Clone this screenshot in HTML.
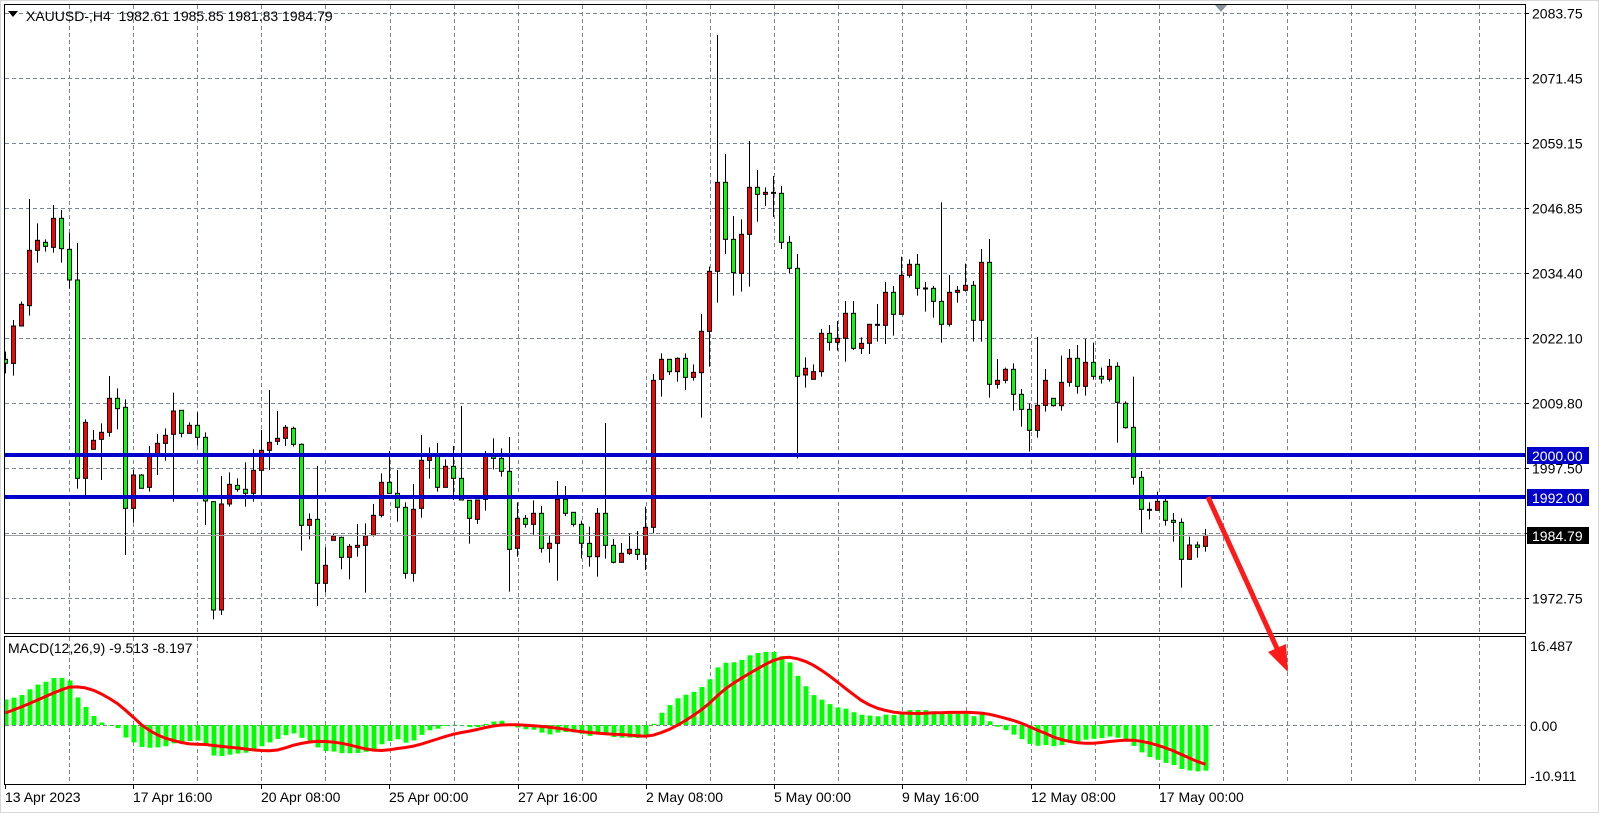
<!DOCTYPE html>
<html><head><meta charset="utf-8"><style>
html,body{margin:0;padding:0;background:#fff;}
svg{display:block;font-family:"Liberation Sans",Arial,sans-serif;}
</style></head><body>
<svg id="s" width="1599" height="813" xmlns="http://www.w3.org/2000/svg">
<rect x="0" y="0" width="1599" height="813" fill="#fff"/>
<rect x="0.5" y="0.5" width="1598" height="812" fill="none" stroke="#d8d8d8"/>
<defs>
<clipPath id="cm"><rect x="5" y="5" width="1520" height="628"/></clipPath>
<clipPath id="cd"><rect x="5" y="637" width="1520" height="147"/></clipPath>
</defs>
<g id="grid"></g>
<g id="candles" clip-path="url(#cm)"></g>
<g id="macd" clip-path="url(#cd)"></g>
<rect x="4.5" y="4.5" width="1521" height="629" fill="none" stroke="#000"/>
<rect x="4.5" y="636.5" width="1521" height="148" fill="none" stroke="#000"/>
<line x1="5" y1="535.5" x2="1525" y2="535.5" stroke="#a0a0a0" stroke-width="1"/>
<line x1="5" y1="455" x2="1525" y2="455" stroke="#0000c8" stroke-width="4"/>
<line x1="5" y1="497" x2="1525" y2="497" stroke="#0000c8" stroke-width="4"/>
<line x1="1208" y1="497" x2="1280" y2="655" stroke="#ff1a1a" stroke-width="5"/>
<polygon points="1288,672 1268,652 1286,644" fill="#ff1a1a"/>
<polygon points="1215,5 1227,5 1221,12" fill="#8a94a0"/>
<polygon points="8,11 18,11 13,17" fill="#000"/>
<text x="26" y="21" font-size="14" fill="#000" style="white-space:pre">XAUUSD-,H4&#160;&#160;1982.61 1985.85 1981.83 1984.79</text>
<text x="8" y="653" font-size="14" fill="#000">MACD(12,26,9) -9.513 -8.197</text>
<g id="axis" font-size="14" fill="#000"></g>
<rect x="1527" y="447" width="62" height="17" fill="#0000c8"/>
<text x="1532" y="461" font-size="14" fill="#fff">2000.00</text>
<rect x="1527" y="489" width="62" height="17" fill="#0000c8"/>
<text x="1532" y="503" font-size="14" fill="#fff">1992.00</text>
<rect x="1527" y="527" width="62" height="17" fill="#000"/>
<text x="1532" y="541" font-size="14" fill="#fff">1984.79</text>
</svg>
<script>
(function(){
var NS="http://www.w3.org/2000/svg";
function el(p,t,a,txt){var e=document.createElementNS(NS,t);for(var k in a)e.setAttribute(k,a[k]);if(txt!=null)e.textContent=txt;p.appendChild(e);return e;}
var g=document.getElementById('grid'),ax=document.getElementById('axis');
var dash={stroke:"#7a8594","stroke-width":1,"stroke-dasharray":"4,3"};
for(var k=0;k<23;k++){var x=Math.round(69+64.1*k)+0.5;
 el(g,'line',Object.assign({x1:x,y1:5,x2:x,y2:633},dash));
 el(g,'line',Object.assign({x1:x,y1:637,x2:x,y2:784},dash));}
var labs=["2083.75","2071.45","2059.15","2046.85","2034.40","2022.10","2009.80","1997.50","","1972.75"];
for(var k=0;k<10;k++){var y=13+65*k+0.5;
 el(g,'line',Object.assign({x1:5,y1:y,x2:1525,y2:y},dash));
 el(ax,'line',{x1:1525,y1:y,x2:1529,y2:y,stroke:"#000"});
 if(labs[k])el(ax,'text',{x:1532,y:y+5},labs[k]);}
el(g,'line',Object.assign({x1:5,y1:725.5,x2:1525,y2:725.5},dash));
el(ax,'text',{x:1530,y:651},"16.487");
el(ax,'text',{x:1530,y:731},"0.00");
el(ax,'text',{x:1530,y:781},"-10.911");
var tl=[[5,"13 Apr 2023"],[133,"17 Apr 16:00"],[261,"20 Apr 08:00"],[389,"25 Apr 00:00"],[518,"27 Apr 16:00"],[646,"2 May 08:00"],[774,"5 May 00:00"],[902,"9 May 16:00"],[1031,"12 May 08:00"],[1159,"17 May 00:00"]];
tl.forEach(function(t){el(ax,'text',{x:t[0],y:802},t[1]);el(ax,'line',{x1:t[0]+0.5,y1:784,x2:t[0]+0.5,y2:789,stroke:"#000"});});
var segs=[
[180,0,[["G",515,538,550,580],["R",420,438,550,587],["R",365,373,438,438],["R",57,211,377,407],["R",130,181,211,248],["G",178,187,199,215],["R",75,115,202,218],["G",90,115,206,248],["G",158,208,300,326],["G",189,300,895,926],["R",718,727,895,945],["R",750,781,808,808],["R",730,757,778,900],["R",588,655,757,770],["G",625,655,686,748],["G",658,682,985,1125],["R",870,885,985,1028],["G",882,885,925,925],["R",798,822,922,935],["R",762,790,822,885],["R",745,766,790,842],["R",638,693,763,965],["G",690,691,760,772],["R",727,736,760,760],["G",697,736,772,797],["G",757,772,963,1035],["G",963,965,1290,1318],["R",888,972,1290,1305],["R",877,913,972,980],["G",895,916,928,935],["G",847,928,940,980],["R",808,871,940,965],["R",750,811,871,945],["R",630,787,811,870],["R",693,775,784,795],["R",735,742,775,798],["G",740,745,793,800],["G",790,793,1036,1112],["R",1000,1018,1036,1078]]],
[360,39,[["G",318,478,670,738],["R",562,616,670,698],["R",520,528,541,541],["G",530,532,592,628],["R",552,559,592,658],["R",492,556,562,590],["R",490,528,556,698],["R",432,466,526,530],["R",340,367,466,472],["G",273,367,400,400],["G",330,400,442,485],["G",427,442,640,656],["R",372,448,640,665],["R",225,301,445,473],["R",262,290,301,356],["G",249,288,382,395],["R",298,319,382,382],["G",258,319,355,420],["G",138,355,420,420],["G",420,421,475,551],["R",420,420,478,492],["R",273,288,418,452],["G",235,288,295,328],["G",265,295,334,350],["G",231,334,568,695],["R",427,475,565,590],["G",465,475,493,503],["R",421,460,493,524],["G",438,460,565,578],["R",525,550,565,608],["R",363,418,550,662],["G",378,418,460,468],["G",457,457,493,500],["G",482,493,550,595],["G",500,550,590,620],["R",444,460,590,650],["G",189,460,556,596],["G",537,556,607,610],["R",549,580,607,607],["R",520,568,580,585],["G",513,568,583,600],["R",440,502,583,630],["R",42,61,502,520]]],
[25,82,[["R",985,1003,1063,1115],["G",1003,1003,1040,1050],["R",997,1000,1040,1070],["G",985,1000,1057,1095],["R",1018,1042,1057,1067],["R",867,919,1043,1178],["R",725,739,919,1025],["R",30,472,739,833],["G",387,472,643,687],["G",573,643,743,812],["R",583,628,745,800],["R",348,487,628,785],["G",435,487,508,590],["R",487,502,508,543],["R",453,502,505,576],["G",483,505,652,672],["G",633,652,730,745],["G",687,730,1054,1300],["R",997,1030,1050,1088],["R",1018,1040,1063,1063],["R",912,925,1040,1055],["G",900,925,952,977],["R",888,940,952,977],["R",828,865,940,1010],["G",828,865,970,975],["R",937,955,970,987],["R",898,898,955,987],["R",837,898,901,950],["R",771,802,901,957],["G",783,802,868,932],["R",695,751,868,868],["R",703,718,751,758],["G",687,718,790,812],["R",771,789,791,860],["G",783,790,829,878],["G",532,829,898,953],["R",750,802,898,905],["R",783,796,802,833]]],
[230,120,[["R",101,166,181,185],["G",153,166,271,335],["R",57,97,271,335],["G",27,97,463,503],["R",387,451,463,476],["R",413,418,451,460],["G",400,418,493,542],["G",477,493,538,590],["G",520,538,601,665],["R",321,526,601,623],["R",417,451,526,545],["G",505,505,527,530],["R",377,457,527,542],["R",357,385,457,470],["G",345,385,469,491],["R",327,397,469,497],["G",338,397,439,449],["G",413,439,447,461],["R",387,409,448,455],["G",397,409,517,638],["G",514,520,593,596],["G",440,592,742,764],["G",723,742,838,908],["R",817,838,841,868],["R",785,814,841,841],["G",807,814,871,887],["G",849,871,877,935],["G",865,877,988,1073],["R",920,945,988,990],["G",935,945,952,983],["R",897,916,949,965]]]];
var cg=document.getElementById('candles');var closes=[],xs=[];
segs.forEach(function(s){var oy=s[0];s[2].forEach(function(b,j){var i=s[1]+j;var xc=5.5+8*i;
 var hi=oy+b[1]/3,top=oy+b[2]/3,bot=oy+b[3]/3,lo=oy+b[4]/3;
 el(cg,'line',{x1:xc,y1:hi,x2:xc,y2:lo,stroke:"#000","stroke-width":1});
 var h=Math.max(bot-top,1);
 el(cg,'rect',{x:xc-2,y:top,width:4,height:h,fill:b[0]=="R"?"#ff0000":"#00ff00",stroke:"#000","stroke-width":1});
 var cy=b[0]=="R"?top:bot;closes[i]=2083.75-(cy-13)/5.27;xs[i]=xc;});});
var a12=2/13,a26=2/27,e12=closes[0]-3,e26=closes[0]-8.5,m=[];
var pre=[0,0.5,1.2,1.8,2.5,3.2,3.8,4.3];
for(var i=0;i<closes.length;i++){e12+=a12*(closes[i]-e12);e26+=a26*(closes[i]-e26);m[i]=e12-e26;}
var mg=document.getElementById('macd');var sig=[];
for(var i=0;i<m.length;i++){var sum=0;for(var k=0;k<9;k++){var idx=i-k;sum+=idx>=0?m[idx]:pre[pre.length+idx];}sig[i]=sum/9;}
for(var i=0;i<m.length;i++){var y=725-m[i]*4.79;var y0=Math.min(y,725),h=Math.abs(y-725);
 el(mg,'rect',{x:xs[i]-2,y:y0,width:5,height:Math.max(h,0.5),fill:"#00ff00"});}
var d="";for(var i=0;i<sig.length;i++){d+=(i?"L":"M")+xs[i].toFixed(1)+","+(725-sig[i]*4.79).toFixed(1);}
el(mg,'path',{d:d,fill:"none",stroke:"#ff0000","stroke-width":3,"stroke-linejoin":"round"});
})();
</script>
</body></html>
